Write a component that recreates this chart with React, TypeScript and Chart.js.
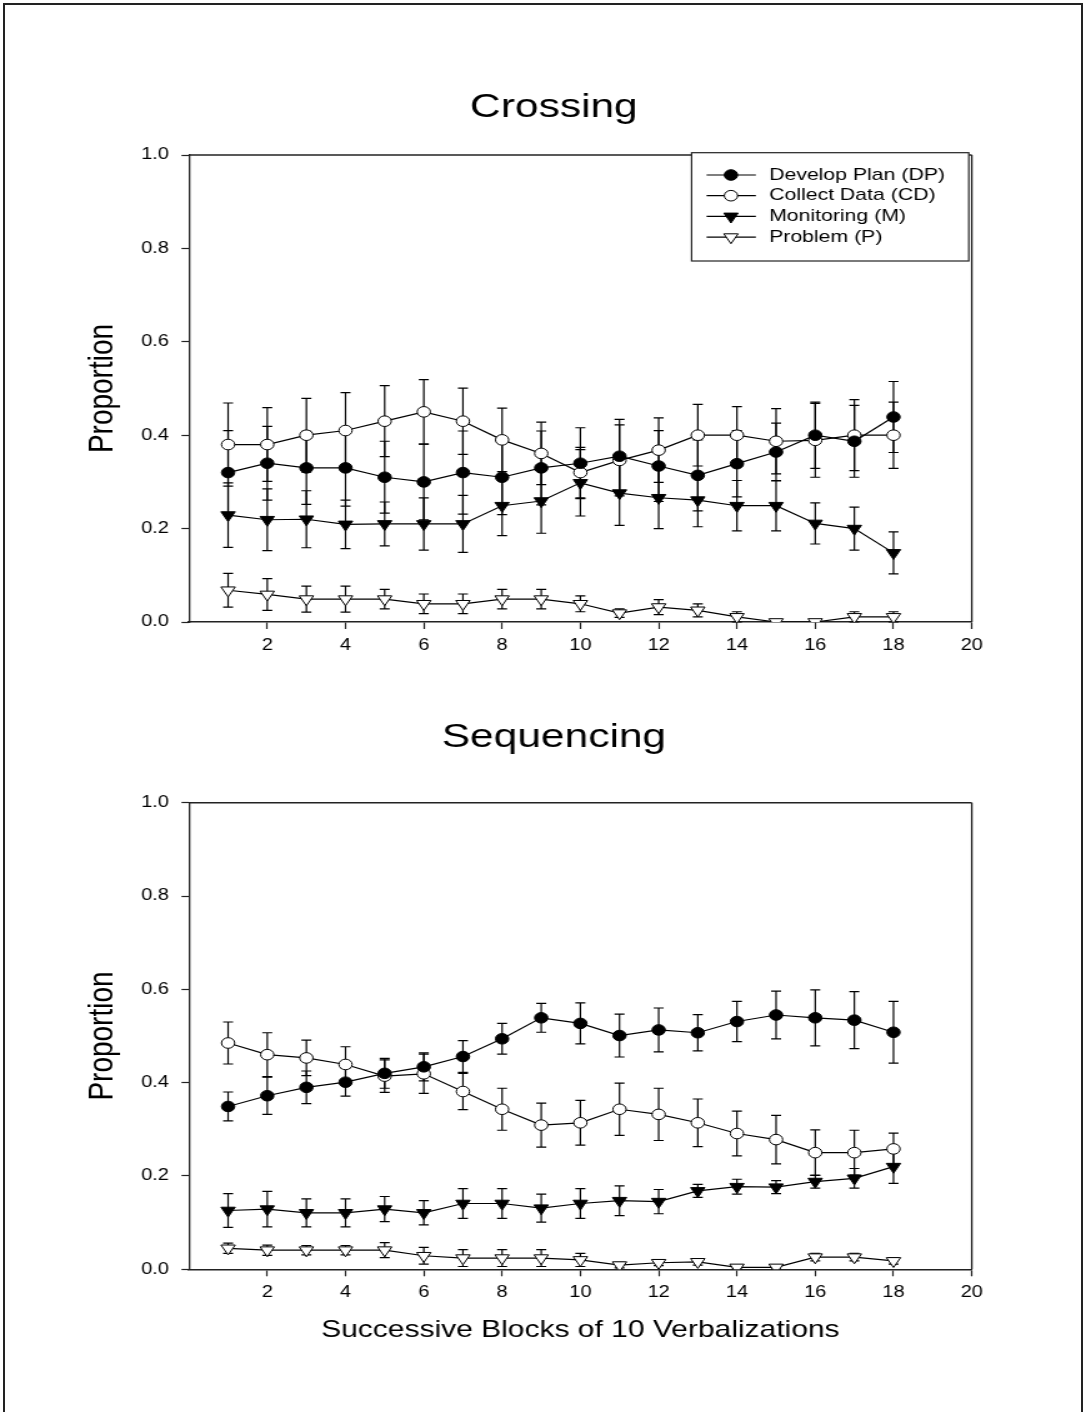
import React, { useEffect, useRef } from 'react';
import { Chart, registerables } from 'chart.js';

Chart.register(...registerables);

// ---------------- data ----------------
const blocks = [1, 2, 3, 4, 5, 6, 7, 8, 9, 10, 11, 12, 13, 14, 15, 16, 17, 18];
const seriesNames = ['Develop Plan (DP)', 'Collect Data (CD)', 'Monitoring (M)', 'Problem (P)'];

// Crossing
const crossingDP = [0.32, 0.34, 0.33, 0.33, 0.31, 0.30, 0.32, 0.31, 0.33, 0.34, 0.355, 0.334, 0.314, 0.339, 0.364, 0.40, 0.387, 0.439];
const crossingDPErr = [0.09, 0.079, 0.078, 0.082, 0.077, 0.081, 0.089, 0.08, 0.079, 0.076, 0.079, 0.076, 0.076, 0.071, 0.062, 0.071, 0.077, 0.076];
const crossingCD = [0.38, 0.38, 0.40, 0.41, 0.43, 0.45, 0.43, 0.39, 0.361, 0.32, 0.346, 0.368, 0.40, 0.40, 0.387, 0.389, 0.40, 0.40];
const crossingCDErr = [0.089, 0.079, 0.079, 0.081, 0.076, 0.069, 0.071, 0.068, 0.067, 0.054, 0.076, 0.069, 0.066, 0.061, 0.07, 0.079, 0.076, 0.071];
const crossingM = [0.229, 0.219, 0.22, 0.209, 0.21, 0.21, 0.21, 0.249, 0.259, 0.298, 0.276, 0.266, 0.261, 0.249, 0.249, 0.211, 0.20, 0.148];
const crossingMErr = [0.069, 0.066, 0.061, 0.052, 0.047, 0.056, 0.061, 0.064, 0.069, 0.071, 0.069, 0.066, 0.057, 0.054, 0.054, 0.044, 0.046, 0.045];
const crossingP = [0.068, 0.059, 0.049, 0.049, 0.049, 0.039, 0.039, 0.049, 0.049, 0.039, 0.019, 0.032, 0.025, 0.011, 0, 0, 0.011, 0.011];
const crossingPErr = [0.036, 0.034, 0.028, 0.028, 0.021, 0.021, 0.021, 0.021, 0.021, 0.017, 0.009, 0.016, 0.014, 0.011, 0, 0, 0.011, 0.011];

// Sequencing
const sequencingDP = [0.349, 0.372, 0.39, 0.401, 0.42, 0.434, 0.456, 0.494, 0.539, 0.527, 0.501, 0.513, 0.507, 0.531, 0.545, 0.539, 0.534, 0.508];
const sequencingDPErr = [0.031, 0.04, 0.035, 0.03, 0.032, 0.03, 0.034, 0.033, 0.031, 0.044, 0.046, 0.047, 0.039, 0.043, 0.051, 0.06, 0.061, 0.066];
const sequencingCD = [0.485, 0.46, 0.453, 0.439, 0.414, 0.419, 0.381, 0.343, 0.309, 0.314, 0.343, 0.332, 0.314, 0.291, 0.278, 0.25, 0.25, 0.258];
const sequencingCDErr = [0.045, 0.047, 0.038, 0.038, 0.035, 0.042, 0.039, 0.045, 0.047, 0.048, 0.056, 0.056, 0.051, 0.048, 0.052, 0.049, 0.048, 0.034];
const sequencingM = [0.126, 0.129, 0.121, 0.121, 0.129, 0.121, 0.141, 0.141, 0.131, 0.141, 0.147, 0.145, 0.168, 0.177, 0.176, 0.188, 0.195, 0.22];
const sequencingMErr = [0.036, 0.038, 0.03, 0.03, 0.027, 0.026, 0.032, 0.032, 0.03, 0.032, 0.032, 0.026, 0.014, 0.016, 0.014, 0.014, 0.021, 0.036];
const sequencingP = [0.045, 0.041, 0.041, 0.041, 0.041, 0.029, 0.024, 0.024, 0.024, 0.02, 0.009, 0.014, 0.016, 0.004, 0.004, 0.026, 0.026, 0.018];
const sequencingPErr = [0.011, 0.011, 0.01, 0.01, 0.016, 0.018, 0.018, 0.018, 0.018, 0.014, 0.006, 0.006, 0.007, 0.003, 0.003, 0.008, 0.008, 0.007];

const xMin = 0;
const xMax = 20;
const xStep = 2;
const yMin = 0;
const yMax = 1;
const yStep = 0.2;

// ---------------- styling ----------------
const S = 1.25; // horizontal stretch of the reference picture
const CANVAS_W = 869; // internal px; shown 1086 css px wide
const FONT = '"Liberation Sans", Arial, Helvetica, sans-serif';
const INK = '#000';
const AXIS = '#222';
const CAP = 4;

type Marker = { shape: 'circle' | 'triangle'; fill: string; r: number };
const markers: Marker[] = [
  { shape: 'circle', fill: '#000', r: 5.3 },
  { shape: 'circle', fill: '#fff', r: 5.3 },
  { shape: 'triangle', fill: '#000', r: 6.6 },
  { shape: 'triangle', fill: '#fff', r: 6.6 },
];

function drawMarker(ctx: CanvasRenderingContext2D, m: Marker, x: number, y: number) {
  ctx.save();
  ctx.lineWidth = 1;
  ctx.strokeStyle = INK;
  ctx.fillStyle = m.fill;
  ctx.beginPath();
  if (m.shape === 'circle') {
    ctx.arc(x, y, m.r, 0, Math.PI * 2);
  } else {
    const h = m.r * Math.sin(Math.PI / 3);
    ctx.moveTo(x - h, y - m.r / 2);
    ctx.lineTo(x + h, y - m.r / 2);
    ctx.lineTo(x, y + m.r);
    ctx.closePath();
  }
  ctx.fill();
  ctx.stroke();
  ctx.restore();
}

const errorBarPlugin = {
  id: 'errorBars',
  beforeDatasetsDraw(chart: any) {
    const { ctx } = chart;
    const xs = chart.scales.x;
    const ys = chart.scales.y;
    ctx.save();
    ctx.strokeStyle = INK;
    ctx.lineWidth = 1.2;
    chart.data.datasets.forEach((ds: any) => {
      const errs: number[] = ds.errors;
      if (!errs) return;
      ds.data.forEach((p: any, i: number) => {
        const e = errs[i];
        if (!e) return;
        const px = xs.getPixelForValue(p.x);
        const yt = ys.getPixelForValue(p.y + e);
        const yb = ys.getPixelForValue(Math.max(0, p.y - e));
        ctx.beginPath();
        ctx.moveTo(px, yt);
        ctx.lineTo(px, yb);
        ctx.moveTo(px - CAP, yt);
        ctx.lineTo(px + CAP, yt);
        ctx.moveTo(px - CAP, yb);
        ctx.lineTo(px + CAP, yb);
        ctx.stroke();
      });
    });
    ctx.restore();
  },
};

const framePlugin = {
  id: 'plotFrame',
  beforeDatasetsDraw(chart: any) {
    const { ctx, chartArea: a } = chart;
    ctx.save();
    ctx.strokeStyle = AXIS;
    ctx.lineWidth = 1.4;
    ctx.beginPath();
    ctx.moveTo(a.left, a.top);
    ctx.lineTo(a.right, a.top);
    ctx.stroke();
    ctx.lineWidth = 1.3;
    ctx.beginPath();
    ctx.moveTo(a.right, a.top);
    ctx.lineTo(a.right, a.bottom);
    ctx.stroke();
    ctx.restore();
  },
};

const boxLegendPlugin = {
  id: 'boxLegend',
  afterDraw(chart: any, _args: any, opts: any) {
    if (!opts || !opts.display) return;
    const { ctx, chartArea: a } = chart;
    const w = 221.8;
    const h = 108.3;
    const left = a.right - 2.4 - w;
    const top = a.top - 2.3;
    ctx.save();
    ctx.fillStyle = '#fff';
    ctx.fillRect(left, top, w, h);
    ctx.strokeStyle = AXIS;
    ctx.lineWidth = 1.2;
    ctx.strokeRect(left, top, w, h);
    ctx.font = `17px ${FONT}`;
    ctx.textBaseline = 'middle';
    ctx.textAlign = 'left';
    chart.data.datasets.forEach((ds: any, i: number) => {
      const y = top + 22.3 + i * 20.7;
      ctx.strokeStyle = INK;
      ctx.lineWidth = 1.2;
      ctx.beginPath();
      ctx.moveTo(left + 12, y);
      ctx.lineTo(left + 51.4, y);
      ctx.stroke();
      drawMarker(ctx, markers[i], left + 31.5, y);
      ctx.fillStyle = INK;
      ctx.fillText(ds.label, left + 62, y);
    });
    ctx.restore();
  },
};

type Panel = {
  title: string;
  top: number;
  height: number;
  chartTop: number;
  chartBottom: number;
  titleMid: number;
  legend: boolean;
  xTitle: string;
  values: number[][];
  errors: number[][];
};

const panels: Panel[] = [
  {
    title: 'Crossing',
    top: 0,
    height: 690,
    chartTop: 155,
    chartBottom: 622,
    titleMid: 107.5,
    legend: true,
    xTitle: '',
    values: [crossingDP, crossingCD, crossingM, crossingP],
    errors: [crossingDPErr, crossingCDErr, crossingMErr, crossingPErr],
  },
  {
    title: 'Sequencing',
    top: 700,
    height: 712,
    chartTop: 102.7,
    chartBottom: 569.3,
    titleMid: 38,
    legend: false,
    xTitle: 'Successive Blocks of 10 Verbalizations',
    values: [sequencingDP, sequencingCD, sequencingM, sequencingP],
    errors: [sequencingDPErr, sequencingCDErr, sequencingMErr, sequencingPErr],
  },
];

// layout (internal canvas px)
const PAD_LEFT = 108.8;
const PAD_RIGHT = CANVAS_W - 972 / S;
const Y_AXIS_W = 189 / S - PAD_LEFT;
const TITLE_SIZE = 34;
const TITLE_LH = TITLE_SIZE * 1.2;

function PanelChart({ p }: { p: Panel }) {
  const ref = useRef<HTMLCanvasElement>(null);
  useEffect(() => {
    if (!ref.current) return;
    const datasets = p.values.map((vals, i) => ({
      label: seriesNames[i],
      data: blocks.map((b, j) => ({ x: b, y: vals[j] })),
      errors: p.errors[i],
      borderColor: INK,
      borderWidth: 1.2,
      backgroundColor: markers[i].fill,
      pointBackgroundColor: markers[i].fill,
      pointBorderColor: INK,
      pointBorderWidth: 1,
      pointStyle: markers[i].shape,
      pointRotation: markers[i].shape === 'triangle' ? 180 : 0,
      pointRadius: markers[i].r,
      fill: false,
      tension: 0,
    }));
    const titlePadTop = p.titleMid - TITLE_LH / 2;
    const titlePadBottom = p.chartTop - titlePadTop - TITLE_LH;
    const xAxisH = p.height - p.chartBottom;
    const yTitleSize = 28;
    const chart = new Chart(ref.current, {
      type: 'line',
      data: { datasets } as any,
      plugins: [errorBarPlugin, framePlugin, boxLegendPlugin],
      options: {
        responsive: false,
        animation: false,
        devicePixelRatio: 1,
        events: [],
        layout: { padding: { left: PAD_LEFT, right: PAD_RIGHT, top: 0, bottom: 0 } },
        plugins: {
          legend: { display: false },
          tooltip: { enabled: false },
          title: {
            display: true,
            text: p.title,
            color: INK,
            font: { family: FONT, size: TITLE_SIZE, weight: 'normal' },
            padding: { top: titlePadTop, bottom: titlePadBottom },
          },
          boxLegend: { display: p.legend },
        } as any,
        scales: {
          x: {
            type: 'linear',
            min: xMin,
            max: xMax,
            ticks: {
              stepSize: xStep,
              color: INK,
              font: { family: FONT, size: 16 },
              padding: 7,
              maxRotation: 0,
              autoSkip: false,
              callback: (v: any) => (Number(v) === 0 ? '' : String(v)),
            },
            grid: {
              drawOnChartArea: false,
              drawTicks: true,
              tickLength: 7,
              tickWidth: 1.2,
              tickColor: (c: any) => (c.tick && c.tick.value === 0 ? 'rgba(0,0,0,0)' : AXIS),
            },
            border: { display: true, color: AXIS, width: 1.5 },
            title: {
              display: !!p.xTitle,
              text: p.xTitle,
              color: INK,
              font: { family: FONT, size: 24 },
              padding: { top: 0, bottom: 82 - 14.4 },
            },
            afterFit: (s: any) => {
              s.height = xAxisH;
            },
          },
          y: {
            type: 'linear',
            min: yMin,
            max: yMax,
            ticks: {
              stepSize: yStep,
              color: INK,
              font: { family: FONT, size: 16 },
              padding: 10,
              callback: (v: any) => Number(v).toFixed(1),
            },
            grid: { drawOnChartArea: false, drawTicks: true, tickLength: 6, tickWidth: 1.2, tickColor: AXIS },
            border: { display: true, color: AXIS, width: 1.3 },
            title: {
              display: true,
              text: 'Proportion',
              color: INK,
              font: { family: FONT, size: yTitleSize },
              padding: { top: 82.4 - PAD_LEFT - (yTitleSize * 1.2) / 2, bottom: 0 },
            },
            afterFit: (s: any) => {
              s.width = Y_AXIS_W;
            },
          },
        } as any,
      },
    } as any);
    return () => chart.destroy();
  }, [p]);
  return (
    <canvas
      ref={ref}
      width={CANVAS_W}
      height={p.height}
      style={{ position: 'absolute', left: 0, top: p.top, width: 1086, height: p.height }}
    />
  );
}

export default function App() {
  return (
    <div>
      <div
        style={{
          position: 'absolute',
          left: 3,
          top: 3,
          width: 1080,
          height: 1409,
          borderLeft: '2px solid #222',
          borderTop: '2px solid #222',
          borderRight: '2px solid #222',
          boxSizing: 'border-box',
        }}
      />
      {panels.map((p) => (
        <PanelChart key={p.title} p={p} />
      ))}
    </div>
  );
}
